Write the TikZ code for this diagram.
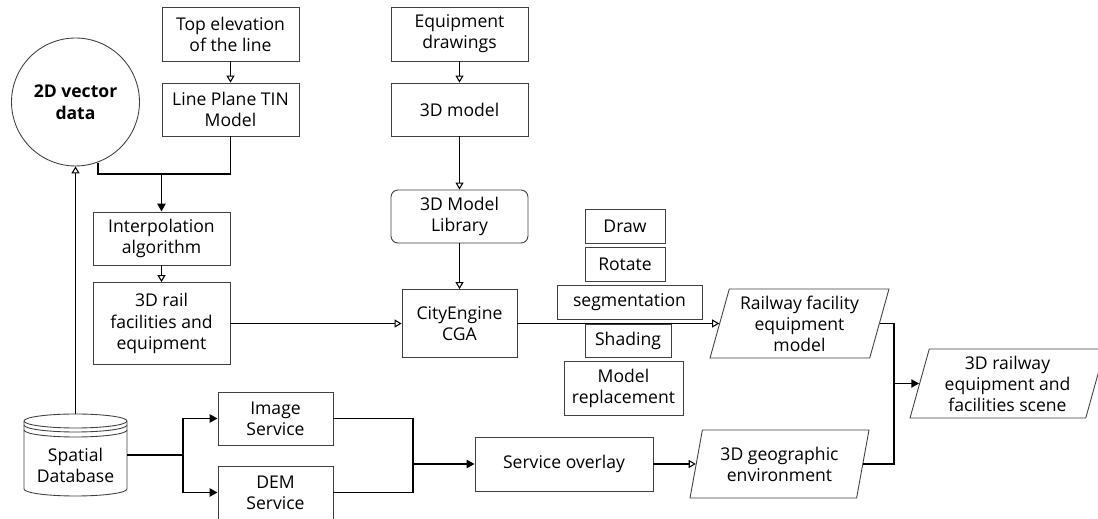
\documentclass[tikz,border=0pt]{standalone}
\usepackage{fontspec}
\setmainfont{Open Sans}
\usetikzlibrary{arrows.meta,shapes.geometric}
\tikzset{
	box/.style={
			draw=black!75, line width=0.5pt, fill=white, align=center, inner sep=1pt
		},
	para/.style={
			box, trapezium, trapezium left angle=72, trapezium right angle=108,
			trapezium stretches body=true
		},
	plain/.style={line width=1.1pt},
	link/.style={plain, -{Triangle[open, length=4pt, width=4.6pt, line width=0.6pt]}},
	solidlink/.style={plain, -{Triangle[length=4.5pt, width=4.6pt]}}
}

\begin{document}
\begin{tikzpicture}[x=0.02cm, y=-0.02cm, font=\fontsize{10}{12}\selectfont]

			\useasboundingbox (0,0) rectangle (1098,519);

			% Draw the terrain branch
			\node[box, minimum width=2.74cm, minimum height=1.08cm] (top) at (230.5,34) {Top elevation\\of the line};
			\node[box, minimum width=2.74cm, minimum height=1.06cm] (tin) at (230.5,109.5) {Line Plane TIN\\Model};
			\node[draw=black!75, line width=0.5pt, circle, minimum size=2.56cm, align=center,
				font=\bfseries\fontsize{10}{12.5}\selectfont] (vec) at (75.5,102) {2D vector\\data};
			\node[box, minimum width=2.74cm, minimum height=1.06cm] (interp) at (161.5,238.5) {Interpolation\\algorithm};
			\node[box, minimum width=2.74cm, minimum height=1.64cm] (rail) at (161.5,323.5) {3D rail\\facilities and\\equipment};

			% Draw the model branch
			\node[box, minimum width=2.74cm, minimum height=1.08cm] (equip) at (459.5,34) {Equipment\\drawings};
			\node[box, minimum width=2.74cm, minimum height=1.06cm] (model) at (459.5,109.5) {3D model};
			\node[box, rounded corners=0.14cm, minimum width=2.74cm, minimum height=1.06cm] (lib) at (459.5,216.5) {3D Model\\Library};
			\node[box, minimum width=2.3cm, minimum height=1.36cm] (city) at (459.5,323.5) {CityEngine\\CGA};

			% Draw the CGA operations
			\node[box, minimum width=1.6cm, minimum height=0.68cm] (draw) at (625,226) {Draw};
			\node[box, minimum width=1.6cm, minimum height=0.68cm] (rotate) at (625,264) {Rotate};
			\node[box, minimum width=2.9cm, minimum height=0.68cm] (seg) at (629.5,302) {segmentation};
			\node[box, minimum width=1.72cm, minimum height=0.66cm] (shade) at (628,340.5) {Shading};
			\node[box, minimum width=2.38cm, minimum height=1.08cm] (repl) at (623.5,388) {Model\\replacement};

			% Draw the service branch
			\fill[white] (24,421) -- (24,489) arc[start angle=180, end angle=0, x radius=51.5, y radius=7]
				-- (127,421) arc[start angle=0, end angle=-180, x radius=51.5, y radius=7] -- cycle;
			\draw[black!75, line width=0.5pt] (24,421) -- (24,489) arc[start angle=180, end angle=0, x radius=51.5, y radius=7]
				-- (127,421) arc[start angle=0, end angle=-180, x radius=51.5, y radius=7];
			\draw[black!75, line width=0.5pt] (24,421) arc[start angle=180, end angle=0, x radius=51.5, y radius=7];
			\draw[black!75, line width=0.5pt] (24,425) arc[start angle=180, end angle=0, x radius=51.5, y radius=7];
			\draw[black!75, line width=0.5pt] (24,430) arc[start angle=180, end angle=0, x radius=51.5, y radius=7];
			\node[minimum width=2.06cm, minimum height=1.64cm,
				label={[align=center, yshift=-0.2cm]center:Spatial\\Database}] (db) at (75.5,455) {};
			\node[box, minimum width=2.3cm, minimum height=1.06cm] (img) at (275.5,418.5) {Image\\Service};
			\node[box, minimum width=2.3cm, minimum height=1.06cm] (dem) at (275.5,492.5) {DEM\\Service};
			\node[box, minimum width=3.56cm, minimum height=1.08cm] (overlay) at (564,464) {Service overlay};

			% Draw the outputs
			\node[para, minimum width=3.58cm, minimum height=1.38cm] (rfem) at (799.5,323.5) {Railway facility\\equipment\\model};
			\node[para, minimum width=3.58cm, minimum height=1.36cm] (geo) at (779.5,464) {3D geographic\\environment};
			\node[para, minimum width=3.9cm, minimum height=1.38cm] (scene) at (1007.5,383.5) {3D railway\\equipment and\\facilities scene};

			% Draw the junctions
			\coordinate (mergeA) at (161.5,174);
			\coordinate (splitA) at (183,455);
			\coordinate (mergeB) at (413,464);
			\coordinate (mergeC) at (894,383.5);

			% Draw the connectors
			\draw[link] (top) -- (tin);
			\draw[plain] (vec.-70) |- (mergeA) -| (tin.south);
			\draw[solidlink] (mergeA) -- (interp);
			\draw[link] (interp) -- (rail);
			\draw[link] (rail) -- (city);
			\draw[link] (db.north) -- (vec.south);
			\draw[link] (equip) -- (model);
			\draw[link] (model) -- (lib);
			\draw[link] (lib) -- (city);
			\draw[link] (city.east) -- (rfem.left side);
			\draw[plain] (db.east) -- (splitA);
			\draw[solidlink] (splitA) |- (img.west);
			\draw[solidlink] (splitA) |- (dem.west);
			\draw[plain] (img.east) -| (mergeB);
			\draw[plain] (dem.east) -| (mergeB);
			\draw[solidlink] (mergeB) -- (overlay);
			\draw[link] (overlay.east) -- (geo.left side);
			\draw[plain] (rfem.right side) -| (mergeC);
			\draw[plain] (geo.right side) -| (mergeC);
			\draw[solidlink] (mergeC) -- (scene.left side);

		\end{tikzpicture}
\end{document}
